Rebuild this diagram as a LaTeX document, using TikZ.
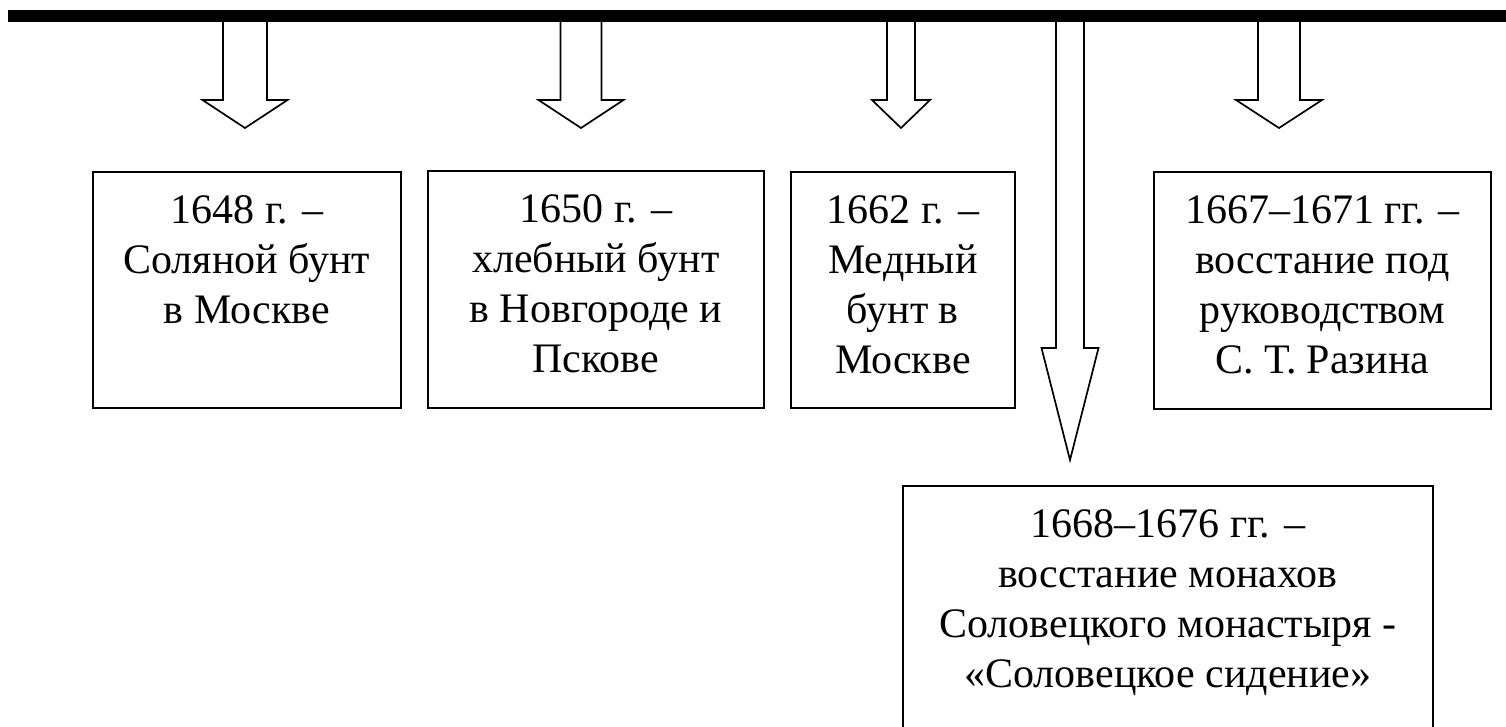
\documentclass[tikz,border=0pt]{standalone}
\usepackage{fontspec}
\setmainfont{Liberation Serif}
\usetikzlibrary{positioning}
\tikzset{
  event/.style      = {rectangle, draw=black, line width=1.7pt, inner sep=0pt, anchor=north west,
                       font=\fontsize{42}{50}\selectfont},
  blockarrow/.style = {draw=black, fill=white, line width=1.7pt, line join=miter},
  timeline/.style   = {draw=black, line width=12pt},
}
\newcommand{\evt}[3]{\parbox[c][#2][t]{#1}{\centering\rule{0pt}{52pt}#3}}

\begin{document}
\begin{tikzpicture}[x=1pt, y=-1pt]
  \useasboundingbox (0,0) rectangle (1506,726);
  \clip (0,0) rectangle (1506,726);
  % block arrows: centre / shaft half width / head half width / shaft end / tip
  \foreach \cx/\sw/\hw/\sy/\ty in {245/22/42.5/100/128, 581/20.5/42.5/100/128, 901/14/29/100/128,
                                   1070/14/28.5/348/460, 1279/21/43/100/128}
    \draw[blockarrow] (\cx-\sw,16) -- (\cx-\sw,\sy) -- (\cx-\hw,\sy) -- (\cx,\ty)
                      -- (\cx+\hw,\sy) -- (\cx+\sw,\sy) -- (\cx+\sw,16) -- cycle;
  \coordinate (tl-start) at (8,16);
  \coordinate (tl-end) at (1506,16);
  \draw[timeline] (tl-start) -- (tl-end);
  % events
  \node[event] (e1648) at (92,171)   {\evt{308pt}{236pt}{1648 г. –\\Соляной бунт\\в Москве}};
  \node[event] (e1650) at (427,170)  {\evt{336pt}{237pt}{1650 г. –\\хлебный бунт\\в Новгороде и\\Пскове}};
  \node[event] (e1662) at (790,171)  {\evt{224pt}{236pt}{1662 г. –\\Медный\\бунт в\\Москве}};
  \node[event] (e1667) at (1153,171) {\evt{337pt}{237pt}{1667–1671 гг. –\\восстание под\\руководством\\С. Т. Разина}};
  \node[event] (e1668) at (902,485)  {\evt{530pt}{290pt}{1668–1676 гг. –\\восстание монахов\\Соловецкого монастыря -\\«Соловецкое сидение»}};
\end{tikzpicture}
\end{document}
